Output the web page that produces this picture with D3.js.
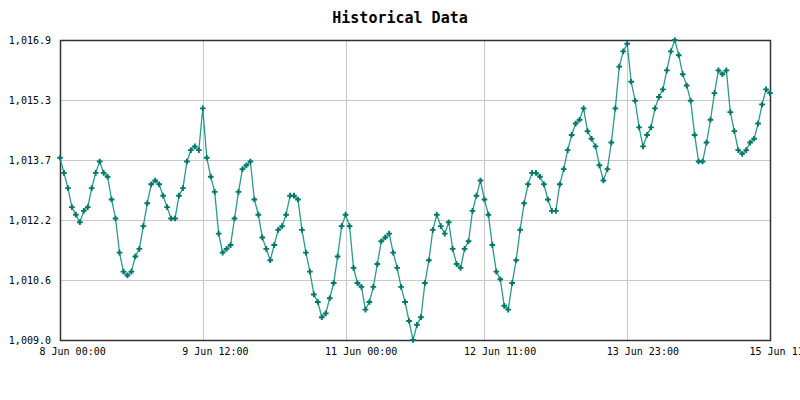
<!DOCTYPE html>
<meta charset="utf-8">
<head>
    <style>
        body {
            margin: 0;
            background-color: #ffffff;
        }
        text {
            font-family: "DejaVu Sans Mono", monospace;
            fill: #000;
        }
        .title {
            font-size: 15px;
            font-weight: bold;
        }
        .tick text {
            font-size: 10px;
        }
        .grid line {
            stroke: #c8c8c8;
        }
    </style>
    <script src="https://d3js.org/d3.v7.min.js"></script>
</head>

<body>
<div id="chart"></div>
</body>

<script>
// hourly readings, 8 Jun 00:00 .. 15 Jun 11:00
var startTime = new Date(2024, 5, 8, 0, 0);

var pressure = [
    1013.8, 1013.4, 1013.0, 1012.5, 1012.3, 1012.1, 1012.4, 1012.5, 1013.0, 1013.4,
    1013.7, 1013.4, 1013.3, 1012.7, 1012.2, 1011.3, 1010.8, 1010.7, 1010.8, 1011.2,
    1011.4, 1012.0, 1012.6, 1013.1, 1013.2, 1013.1, 1012.8, 1012.5, 1012.2, 1012.2,
    1012.8, 1013.0, 1013.7, 1014.0, 1014.1, 1014.0, 1015.1, 1013.8, 1013.3, 1012.9,
    1011.8, 1011.3, 1011.4, 1011.5, 1012.2, 1012.9, 1013.5, 1013.6, 1013.7, 1012.7,
    1012.3, 1011.7, 1011.4, 1011.1, 1011.5, 1011.9, 1012.0, 1012.3, 1012.8, 1012.8,
    1012.7, 1011.9, 1011.3, 1010.8, 1010.2, 1010.0, 1009.6, 1009.7, 1010.1, 1010.5,
    1011.2, 1012.0, 1012.3, 1012.0, 1010.9, 1010.5, 1010.4, 1009.8, 1010.0, 1010.4,
    1011.0, 1011.6, 1011.7, 1011.8, 1011.3, 1010.9, 1010.4, 1010.0, 1009.5, 1009.0,
    1009.4, 1009.6, 1010.5, 1011.1, 1011.9, 1012.3, 1012.0, 1011.8, 1012.1, 1011.4,
    1011.0, 1010.9, 1011.4, 1011.6, 1012.4, 1012.8, 1013.2, 1012.7, 1012.3, 1011.5,
    1010.8, 1010.6, 1009.9, 1009.8, 1010.5, 1011.1, 1011.9, 1012.6, 1013.1, 1013.4,
    1013.4, 1013.3, 1013.1, 1012.7, 1012.4, 1012.4, 1013.1, 1013.5, 1014.0, 1014.4,
    1014.7, 1014.8, 1015.1, 1014.5, 1014.3, 1014.1, 1013.6, 1013.2, 1013.5, 1014.2,
    1015.1, 1016.2, 1016.6, 1016.8, 1015.8, 1015.3, 1014.6, 1014.1, 1014.4, 1014.6,
    1015.1, 1015.4, 1015.6, 1016.1, 1016.6, 1016.9, 1016.5, 1016.0, 1015.7, 1015.3,
    1014.4, 1013.7, 1013.7, 1014.2, 1014.8, 1015.5, 1016.1, 1016.0, 1016.1, 1015.0,
    1014.5, 1014.0, 1013.9, 1014.0, 1014.2, 1014.3, 1014.7, 1015.2, 1015.6, 1015.5
];

var xTickIndex = [0, 36, 72, 107, 143, 179];
var xTickLabels = ["8 Jun 00:00", "9 Jun 12:00", "11 Jun 00:00", "12 Jun 11:00", "13 Jun 23:00", "15 Jun 11:00"];
var yTicks = [1009.0, 1010.58, 1012.16, 1013.74, 1015.32, 1016.9];

var data = pressure.map(function (v, i) {
    return { time: d3.timeHour.offset(startTime, i), value: v };
});

var margin = { top: 40, right: 30, bottom: 60, left: 60 };
var width = 800 - margin.left - margin.right;
var height = 400 - margin.top - margin.bottom;

var x = d3.scaleTime()
    .domain([data[0].time, data[data.length - 1].time])
    .range([0, width]);

var y = d3.scaleLinear()
    .domain([yTicks[0], yTicks[yTicks.length - 1]])
    .range([height, 0]);

var svg = d3.select("#chart").append("svg")
    .attr("width", 800)
    .attr("height", 400);

svg.append("text")
    .attr("class", "title")
    .attr("x", 400)
    .attr("y", 23)
    .attr("text-anchor", "middle")
    .text("Historical Data");

var g = svg.append("g")
    .attr("transform", "translate(" + margin.left + "," + margin.top + ")");

var xTickTimes = xTickIndex.map(function (i) { return data[i].time; });

// grid
g.append("g").attr("class", "grid")
    .selectAll("line").data(yTicks.slice(1, -1))
    .enter().append("line")
    .attr("x1", 0).attr("x2", width)
    .attr("y1", function (d) { return Math.round(y(d)) + 0.5; })
    .attr("y2", function (d) { return Math.round(y(d)) + 0.5; });

g.append("g").attr("class", "grid")
    .selectAll("line").data(xTickTimes.slice(1, -1))
    .enter().append("line")
    .attr("y1", 0).attr("y2", height)
    .attr("x1", function (d) { return Math.round(x(d)) + 0.5; })
    .attr("x2", function (d) { return Math.round(x(d)) + 0.5; });

// axes
var yAxis = g.append("g")
    .call(d3.axisLeft(y).tickValues(yTicks).tickSize(0).tickPadding(9)
        .tickFormat(d3.format(",.1f")));
yAxis.select(".domain").remove();

var xAxis = g.append("g")
    .attr("transform", "translate(0," + height + ")")
    .call(d3.axisBottom(x).tickValues(xTickTimes).tickSize(0).tickPadding(8)
        .tickFormat(function (d, i) { return xTickLabels[i]; }));
xAxis.select(".domain").remove();
xAxis.selectAll("text")
    .attr("text-anchor", "start")
    .attr("dx", -21);

// frame
g.append("rect")
    .attr("x", 0.5).attr("y", 0.5)
    .attr("width", width).attr("height", height)
    .attr("fill", "none")
    .attr("stroke", "#333")
    .attr("stroke-width", 1.5);

// series
var line = d3.line()
    .x(function (d) { return x(d.time); })
    .y(function (d) { return y(d.value); });

g.append("path")
    .datum(data)
    .attr("fill", "none")
    .attr("stroke", "#2a9a8a")
    .attr("stroke-width", 1.3)
    .attr("d", line);

g.selectAll(".pt")
    .data(data)
    .enter().append("path")
    .attr("class", "pt")
    .attr("transform", function (d) { return "translate(" + x(d.time) + "," + y(d.value) + ")"; })
    .attr("d", d3.symbol().type(d3.symbolCross).size(18))
    .attr("fill", "#00776a");
</script>
